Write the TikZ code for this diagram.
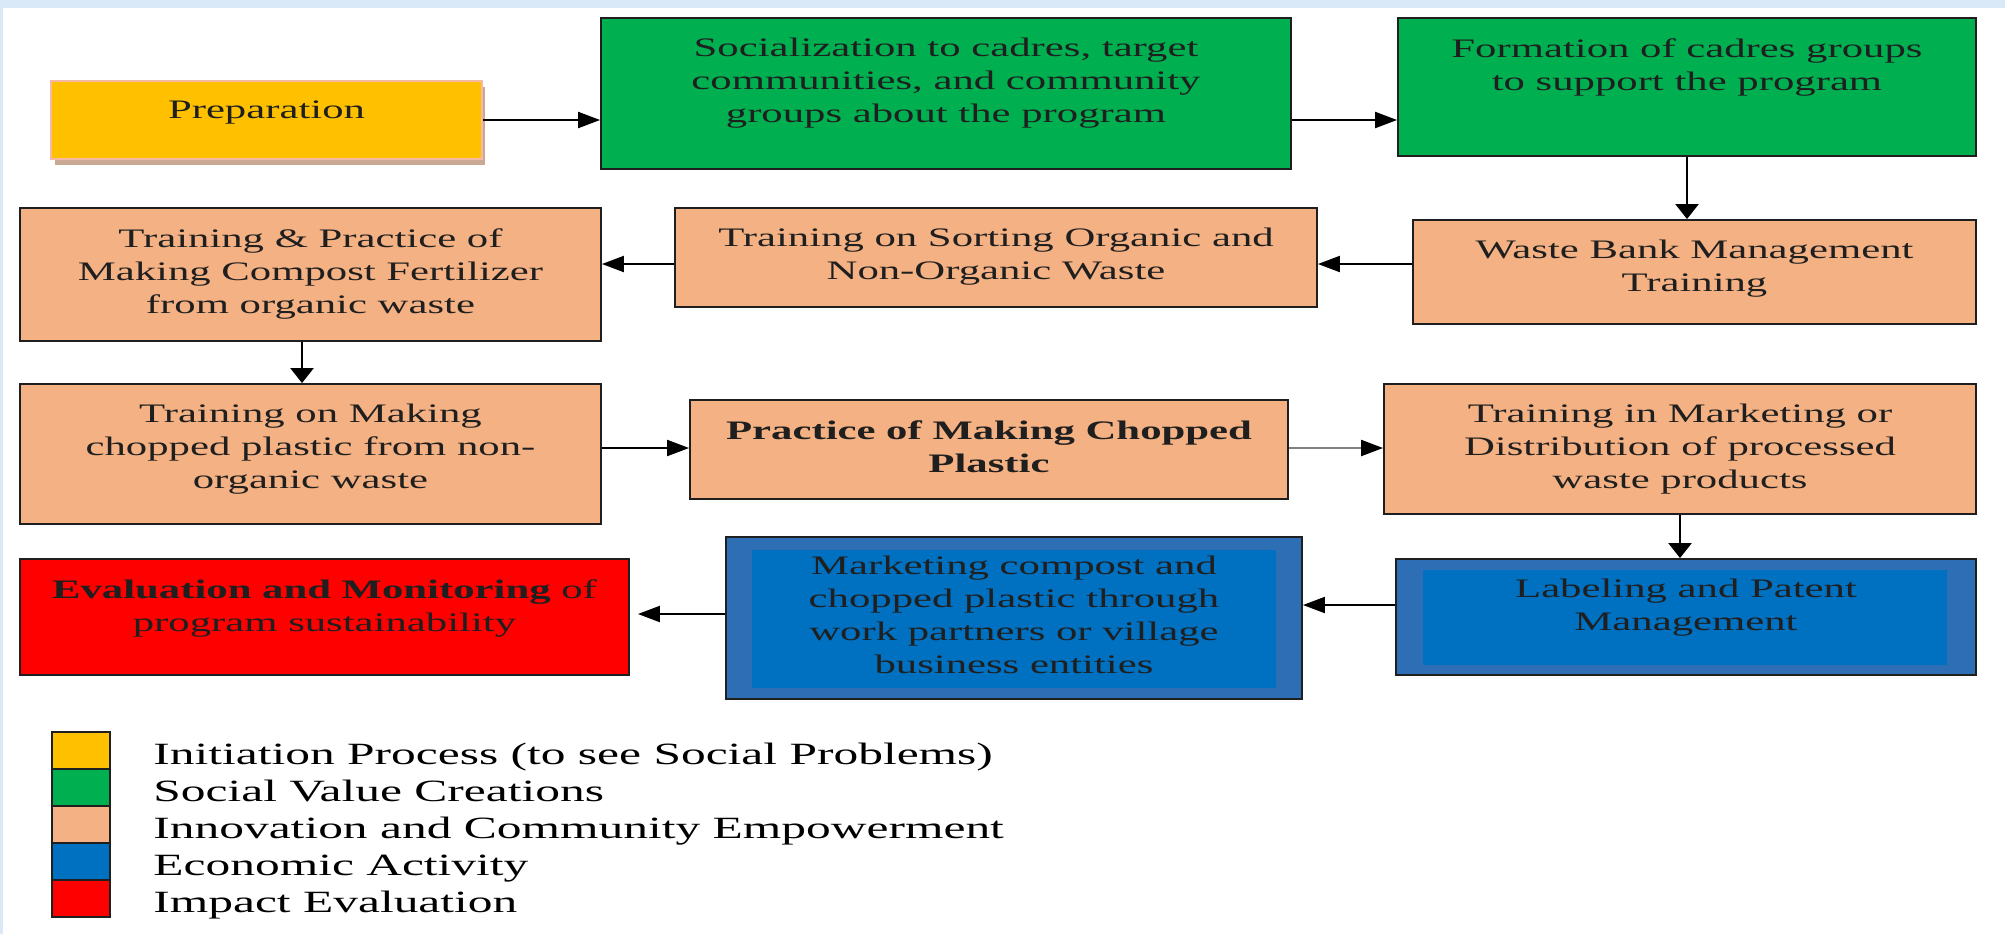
\documentclass[tikz,border=0pt]{standalone}
\usepackage{fontspec}
\setmainfont{Liberation Serif}[FakeStretch=1.6]
\usetikzlibrary{arrows.meta,shadows}
\definecolor{prepyellow}{HTML}{FFC000}
\definecolor{prepedge}{HTML}{F4B9A4}
\definecolor{prepshade}{HTML}{C9A994}
\definecolor{valuegreen}{HTML}{00B050}
\definecolor{trainorange}{HTML}{F4B183}
\definecolor{econblue}{HTML}{0070C0}
\definecolor{econedge}{HTML}{2E6EB5}
\definecolor{impactred}{HTML}{FF0000}
\definecolor{framegray}{HTML}{1F1F1F}
\definecolor{pageblue}{HTML}{DAE9F7}
\newcommand{\stepfont}{\fontsize{15.2pt}{18.8pt}\selectfont}
\newcommand{\keyfont}{\fontsize{17.6pt}{21pt}\selectfont}

\begin{document}
\begin{tikzpicture}[x=0.02cm, y=-0.02cm,
    box/.style={draw=framegray, line width=1.1pt, inner sep=0pt},
    txt/.style={anchor=north, align=center, inner sep=0pt, font=\stepfont, text=black!88},
    harrow/.style={-{Triangle[length=0.44cm,width=0.32cm]}, line width=1.2pt},
    garrow/.style={-{Triangle[length=0.44cm,width=0.32cm,color=black]}, line width=1.2pt, draw=black!50},
    varrow/.style={-{Triangle[length=0.3cm,width=0.46cm]}, line width=1.5pt},
    swatch/.style={draw=framegray, line width=1.1pt, minimum width=1.16cm, minimum height=0.74cm, inner sep=0pt},
    key/.style={anchor=base west, inner sep=0pt, font=\keyfont}]
  % page
  \fill[white] (0,0) rectangle (2005,934);
  \fill[pageblue] (0,0) rectangle (2005,8);
  \fill[pageblue] (0,8) rectangle (3,934);
  \useasboundingbox (0,0) rectangle (2005,934);

  % row 1
  \node[box, draw=prepedge, fill=prepyellow, minimum width=8.62cm, minimum height=1.56cm,
    drop shadow={shadow xshift=0.07cm, shadow yshift=-0.12cm, fill=prepshade, opacity=1}]
    (PREP) at (266.5,120) {};
  \node[txt] (PREPt) at (266.5,100) {Preparation};
  \node[box, fill=valuegreen, minimum width=13.8cm, minimum height=3.02cm] (SOC) at (946,93.5) {};
  \node[txt] (SOCt) at (946,38) {Socialization to cadres, target\\communities, and community\\groups about the program};
  \node[box, fill=valuegreen, minimum width=11.56cm, minimum height=2.76cm] (FORM) at (1687,87) {};
  \node[txt] (FORMt) at (1687,38) {Formation of cadres groups\\to support the program};

  % row 2
  \node[box, fill=trainorange, minimum width=11.26cm, minimum height=2.08cm] (WBM) at (1694.5,272) {};
  \node[txt] (WBMt) at (1694.5,240) {Waste Bank Management\\Training};
  \node[box, fill=trainorange, minimum width=12.84cm, minimum height=1.98cm] (SORT) at (996,257.5) {};
  \node[txt] (SORTt) at (996,228) {Training on Sorting Organic and\\Non-Organic Waste};
  \node[box, fill=trainorange, minimum width=11.62cm, minimum height=2.66cm] (COMP) at (310.5,274.5) {};
  \node[txt] (COMPt) at (310.5,228) {Training \& Practice of\\Making Compost Fertilizer\\from organic waste};

  % row 3
  \node[box, fill=trainorange, minimum width=11.62cm, minimum height=2.8cm] (CHOP) at (310.5,454) {};
  \node[txt] (CHOPt) at (310.5,404) {Training on Making\\chopped plastic from non-\\organic waste};
  \node[box, fill=trainorange, minimum width=11.96cm, minimum height=1.98cm] (PRAC) at (989,449.5) {};
  \node[txt, font=\stepfont\bfseries] (PRACt) at (989,420) {Practice of Making Chopped\\Plastic};
  \node[box, fill=trainorange, minimum width=11.84cm, minimum height=2.6cm] (MKTT) at (1680,449) {};
  \node[txt] (MKTTt) at (1680,404) {Training in Marketing or\\Distribution of processed\\waste products};

  % row 4
  \node[box, fill=econedge, minimum width=11.6cm, minimum height=2.32cm] (LAB) at (1686,617) {};
  \node[fill=econblue, inner sep=0pt, minimum width=10.48cm, minimum height=1.9cm] (LABin) at (1685,617.5) {};
  \node[txt] (LABt) at (1686,579) {Labeling and Patent\\Management};
  \node[box, fill=econedge, minimum width=11.52cm, minimum height=3.24cm] (MKTC) at (1014,618) {};
  \node[fill=econblue, inner sep=0pt, minimum width=10.48cm, minimum height=2.76cm] (MKTCin) at (1014,619) {};
  \node[txt] (MKTCt) at (1014,556) {Marketing compost and\\chopped plastic through\\work partners or village\\business entities};
  \node[box, fill=impactred, minimum width=12.18cm, minimum height=2.32cm] (EVAL) at (324.5,617) {};
  \node[txt] (EVALt) at (324.5,579) {\textbf{Evaluation and Monitoring} of\\program sustainability};

  % flow
  \draw[harrow] (PREP.east) -- (PREP.east -| SOC.west);
  \draw[harrow] (SOC.east |- PREP.east) -- (FORM.west |- PREP.east);
  \draw[varrow] (FORM.south) -- (FORM.south |- WBM.north);
  \draw[harrow] (WBM.west |- 0,264) -- (SORT.east |- 0,264);
  \draw[harrow] (SORT.west |- 0,264) -- (COMP.east |- 0,264);
  \draw[varrow] (COMP.south -| 302,0) -- (CHOP.north -| 302,0);
  \draw[harrow] (CHOP.east |- 0,448) -- (PRAC.west |- 0,448);
  \draw[garrow] (PRAC.east |- 0,448) -- (MKTT.west |- 0,448);
  \draw[varrow] (MKTT.south) -- (MKTT.south |- LAB.north);
  \draw[harrow] (LAB.west |- 0,605) -- (MKTC.east |- 0,605);
  \draw[harrow, shorten >=0.16cm] (MKTC.west |- 0,614) -- (EVAL.east |- 0,614);

  % legend
  \node[swatch, fill=prepyellow] (K1) at (81,750.5) {};
  \node[swatch, fill=valuegreen] (K2) at (81,787.5) {};
  \node[swatch, fill=trainorange] (K3) at (81,824.5) {};
  \node[swatch, fill=econblue] (K4) at (81,861.5) {};
  \node[swatch, fill=impactred] (K5) at (81,898.5) {};
  \node[key] (K1t) at (153,764.5) {Initiation Process (to see Social Problems)};
  \node[key] (K2t) at (153,801.5) {Social Value Creations};
  \node[key] (K3t) at (153,838.5) {Innovation and Community Empowerment};
  \node[key] (K4t) at (153,875.5) {Economic Activity};
  \node[key] (K5t) at (153,912.5) {Impact Evaluation};
\end{tikzpicture}
\end{document}
